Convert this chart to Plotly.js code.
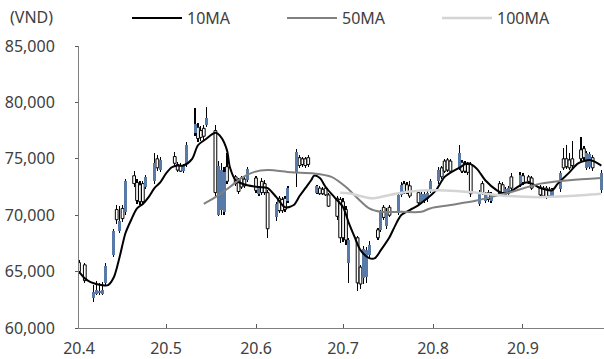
<!DOCTYPE html>
<html><head><meta charset="utf-8">
<script src="https://cdn.plot.ly/plotly-3.0.1.min.js"></script>
<style>html,body{margin:0;padding:0;background:#fff}#chart{width:604px;height:359px}</style>
</head><body><div id="chart"></div>
<script>
const dates = ['2020-04-01','2020-04-03','2020-04-06','2020-04-07','2020-04-08','2020-04-09','2020-04-10','2020-04-13','2020-04-14','2020-04-15','2020-04-16','2020-04-17','2020-04-20','2020-04-21','2020-04-22','2020-04-23','2020-04-24','2020-04-27','2020-04-28','2020-04-29','2020-05-04','2020-05-05','2020-05-06','2020-05-07','2020-05-08','2020-05-11','2020-05-12','2020-05-13','2020-05-14','2020-05-15','2020-05-18','2020-05-19','2020-05-20','2020-05-21','2020-05-22','2020-05-25','2020-05-26','2020-05-27','2020-05-28','2020-05-29','2020-06-01','2020-06-02','2020-06-03','2020-06-04','2020-06-05','2020-06-08','2020-06-09','2020-06-10','2020-06-11','2020-06-12','2020-06-15','2020-06-16','2020-06-17','2020-06-18','2020-06-19','2020-06-22','2020-06-23','2020-06-24','2020-06-25','2020-06-26','2020-06-29','2020-06-30','2020-07-01','2020-07-02','2020-07-03','2020-07-06','2020-07-07','2020-07-08','2020-07-09','2020-07-10','2020-07-13','2020-07-14','2020-07-15','2020-07-16','2020-07-17','2020-07-20','2020-07-21','2020-07-22','2020-07-23','2020-07-24','2020-07-27','2020-07-28','2020-07-29','2020-07-30','2020-07-31','2020-08-03','2020-08-04','2020-08-05','2020-08-06','2020-08-07','2020-08-10','2020-08-11','2020-08-12','2020-08-13','2020-08-14','2020-08-17','2020-08-18','2020-08-19','2020-08-20','2020-08-21','2020-08-24','2020-08-25','2020-08-26','2020-08-27','2020-08-28','2020-08-31','2020-09-01','2020-09-03','2020-09-04','2020-09-07','2020-09-08','2020-09-09','2020-09-10','2020-09-11','2020-09-14','2020-09-15','2020-09-16','2020-09-17','2020-09-18','2020-09-21','2020-09-22','2020-09-23','2020-09-24','2020-09-25','2020-09-28'];
const openP  = [65800,65600,62700,63000,63100,63000,64000,66500,70500,68600,70600,70300,73500,72900,72700,72800,72500,73000,75000,74000,75200,74500,74400,73900,74500,77300,77800,77500,77700,78000,77500,70000,70500,70300,74300,73400,73100,73300,73200,73100,73300,71900,73000,72800,72000,69800,71500,71400,71500,71300,73800,75100,75000,75000,75100,72000,72400,72300,72400,71800,71500,71400,71200,70500,65800,68000,65400,64400,64500,66500,68700,68700,70700,69000,70700,70200,71800,72800,72700,72600,72000,71200,71300,71400,72200,73000,74200,74800,74900,74800,74200,74700,74600,74500,74500,71000,72800,71300,72000,71300,72800,72700,71800,71900,73400,72700,73500,73400,73300,72500,72400,72400,72300,71700,72300,75000,75000,74900,75000,75800,75900,74200,74300,75100,72200];
const highP  = [66000,65800,63800,64200,64000,64100,65800,68800,70900,70800,70900,73200,73900,73200,73000,73000,73600,75500,75300,75200,75600,74700,74600,74500,76500,79500,78200,77900,78000,79600,78000,74800,74600,74300,75500,73600,73300,73500,73400,74300,73500,72600,73300,73100,72200,71200,71700,71600,71700,72600,75900,75300,75200,75200,75300,72700,72600,72500,72600,72000,71700,71600,71500,70800,68000,68200,65600,67300,67200,67700,68900,70500,70900,70600,70900,72000,72900,73000,72900,73000,72200,72100,72100,72200,73200,74300,74400,75000,75100,75000,76200,74900,74800,74700,74700,72200,73000,72100,72200,72100,73000,72900,72500,72600,73700,73800,73700,73600,73500,72700,72600,72600,72500,72400,73900,76000,76200,75500,76600,76900,76100,75700,75600,75300,74000];
const lowP   = [64800,64000,62300,62900,62900,62900,63800,66300,69200,68400,69400,70000,72500,71000,70900,71000,72300,72800,73900,73800,74400,73800,73800,73700,74300,77000,76500,76600,76700,77800,71500,69900,70000,70000,72800,72600,71900,72300,72400,72900,72000,71700,71800,71800,68000,69500,70200,70200,70300,71100,72500,74200,74300,74200,74300,71900,71800,71800,71700,70700,69600,67500,67600,67400,64000,63300,63500,63900,64000,66200,67800,68500,69600,68800,69800,70000,71600,71900,71900,71500,70900,71000,71100,71200,72000,72800,73200,73700,73800,73700,74000,73700,73700,73600,71600,70800,71800,71100,71200,71100,71700,71800,71600,71700,72200,72500,72700,72800,72200,71600,71500,71400,71500,71500,72100,74000,74100,74000,74200,74800,74900,74000,74100,73900,72000];
const closeP = [65000,64200,63200,63400,63300,63400,65500,68600,69600,69500,69700,73000,72800,71300,71200,71200,73400,74600,74200,74900,74600,74000,73900,74400,76200,78100,76800,76900,77000,78600,72000,74400,74000,73800,73000,72800,72100,72500,72600,74100,72200,72400,72000,72000,68800,71000,70400,70400,70500,72400,75600,74400,74500,74400,74500,72600,71900,71900,71800,70800,69900,68000,68000,67800,67800,64000,63900,67000,66900,67400,68000,70300,69800,70400,70000,71800,72700,72100,72000,71700,71100,71900,71900,72000,73000,74000,73400,73900,74000,73900,75500,73900,73900,73800,71900,72000,72000,71900,71400,71900,71900,72000,72300,72400,72400,73600,72900,73000,72400,71800,71700,71600,71700,72300,73700,74200,74300,74200,74400,75000,75100,75500,75400,74200,73700];

const ma10Dates = ['2020-04-01','2020-04-03','2020-04-05','2020-04-09','2020-04-11','2020-04-13','2020-04-15','2020-04-17','2020-04-19','2020-04-21','2020-04-23','2020-04-25','2020-04-27','2020-04-29','2020-05-01','2020-05-03','2020-05-05','2020-05-07','2020-05-10','2020-05-12','2020-05-15','2020-05-18','2020-05-20','2020-05-22','2020-05-23','2020-05-25','2020-05-29','2020-06-02','2020-06-05','2020-06-08','2020-06-11','2020-06-14','2020-06-16','2020-06-18','2020-06-20','2020-06-21','2020-06-23','2020-06-25','2020-06-28','2020-07-01','2020-07-03','2020-07-05','2020-07-07','2020-07-10','2020-07-12','2020-07-14','2020-07-17','2020-07-19','2020-07-21','2020-07-25','2020-07-27','2020-07-30','2020-08-02','2020-08-05','2020-08-10','2020-08-13','2020-08-16','2020-08-19','2020-08-23','2020-08-25','2020-08-27','2020-08-31','2020-09-02','2020-09-04','2020-09-07','2020-09-11','2020-09-13','2020-09-17','2020-09-20','2020-09-24','2020-09-26','2020-09-28'];
const ma10 = [65000,64400,64070,63800,63800,64500,66300,68400,69600,70600,71000,71600,72400,72900,73700,74250,74400,74400,75000,76200,76800,77300,76900,75750,74250,73100,72650,72500,72400,71600,70700,70900,71700,72400,73100,73500,73300,72500,71600,70700,69300,68050,66900,66200,66200,66900,68050,69100,70000,70600,70900,71500,72200,73400,74200,74600,74150,73100,72200,71950,72000,72650,72900,72800,72400,72200,72800,73800,74600,74900,74700,74400];

const ma50Dates = ['2020-05-14','2020-05-18','2020-05-23','2020-05-27','2020-05-31','2020-06-05','2020-06-13','2020-06-21','2020-06-27','2020-07-02','2020-07-06','2020-07-10','2020-07-14','2020-07-21','2020-07-28','2020-07-31','2020-08-07','2020-08-16','2020-08-27','2020-09-07','2020-09-17','2020-09-28'];
const ma50 = [71000,71600,72500,73300,73800,74000,73800,73700,73400,72500,71500,70600,70300,70300,70300,70600,70900,71300,72000,72800,73100,73300];

const ma100Dates = ['2020-06-30','2020-07-03','2020-07-11','2020-07-17','2020-07-24','2020-08-05','2020-08-16','2020-08-27','2020-09-07','2020-09-17','2020-09-28'];
const ma100 = [72000,71950,71500,71800,72100,72200,72000,71700,71600,71700,71900];

const tickDates = ['2020-04-01','2020-05-01','2020-06-01','2020-07-01','2020-08-01','2020-09-01'];
const tickLabels = ['20.4','20.5','20.6','20.7','20.8','20.9'];
const yTicks = [60000,65000,70000,75000,80000,85000];
const seriesNames = ['10MA','50MA','100MA'];

const DAY = 86400000;
const upX=[],upB=[],upH=[],dnX=[],dnB=[],dnH=[];
dates.forEach((d,i)=>{
  const lo=Math.min(openP[i],closeP[i]), hi=Math.max(openP[i],closeP[i]);
  if(closeP[i]>=openP[i]){upX.push(d);upB.push(lo);upH.push(Math.max(hi-lo,60));}
  else{dnX.push(d);dnB.push(lo);dnH.push(Math.max(hi-lo,60));}
});
const FONT = '"Noto Sans", "DejaVu Sans", sans-serif';
const traces = [
  {type:'bar', x:dates, base:lowP, y:highP.map((h,i)=>h-lowP[i]), width:DAY*0.42,
   marker:{color:'#000000', line:{width:0}}, showlegend:false, hoverinfo:'skip'},
  {type:'bar', x:dnX, base:dnB, y:dnH, width:DAY*0.95,
   marker:{color:'#ffffff', line:{width:1, color:'#000000'}}, showlegend:false},
  {type:'bar', x:upX, base:upB, y:upH, width:DAY*1.05,
   marker:{color:'#587aa8', line:{width:0}}, showlegend:false},
  {type:'scatter', mode:'lines', name:seriesNames[0], x:ma10Dates, y:ma10,
   line:{color:'#000000', width:2, shape:'spline', smoothing:0.8}},
  {type:'scatter', mode:'lines', name:seriesNames[1], x:ma50Dates, y:ma50,
   line:{color:'#808080', width:2, shape:'spline', smoothing:0.8}},
  {type:'scatter', mode:'lines', name:seriesNames[2], x:ma100Dates, y:ma100,
   line:{color:'#d4d4d4', width:2.5, shape:'spline', smoothing:0.8}}
];
const layout = {
  width:604, height:359,
  margin:{l:79, r:0, t:46, b:31, autoexpand:false},
  paper_bgcolor:'#ffffff', plot_bgcolor:'#ffffff',
  font:{family:FONT, size:16, color:'#404040'},
  barmode:'overlay', bargap:0,
  xaxis:{type:'date', range:['2020-04-01','2020-09-28 22:00'],
    tickmode:'array', tickvals:tickDates, ticktext:tickLabels,
    ticks:'inside', ticklen:4, tickcolor:'#595959', tickwidth:1,
    showline:true, linecolor:'#7f7f7f', linewidth:1, showgrid:false, zeroline:false,
    ticklabelstandoff:6,
    tickfont:{family:FONT, size:16, color:'#404040'}},
  yaxis:{range:[60000,85000], tickmode:'array', tickvals:yTicks, tickformat:',d',
    ticks:'outside', ticklen:3, tickcolor:'#595959', tickwidth:1,
    showline:true, linecolor:'#7f7f7f', linewidth:1, showgrid:false, zeroline:false,
    ticklabelstandoff:17,
    tickfont:{family:FONT, size:16, color:'#404040'}},
  showlegend:true,
  legend:{orientation:'h', x:0.0914, xanchor:'left', y:1.099, yanchor:'middle',
    font:{family:FONT, size:16, color:'#404040'}, itemwidth:50, entrywidth:90,
    bgcolor:'rgba(0,0,0,0)'},
  annotations:[{text:'(VND)', xref:'paper', yref:'paper', x:-0.135, xanchor:'left',
    y:1.103, yanchor:'middle', showarrow:false, font:{family:FONT, size:16, color:'#404040'}}]
};
Plotly.newPlot('chart', traces, layout, {displayModeBar:false, staticPlot:true});
</script></body></html>
